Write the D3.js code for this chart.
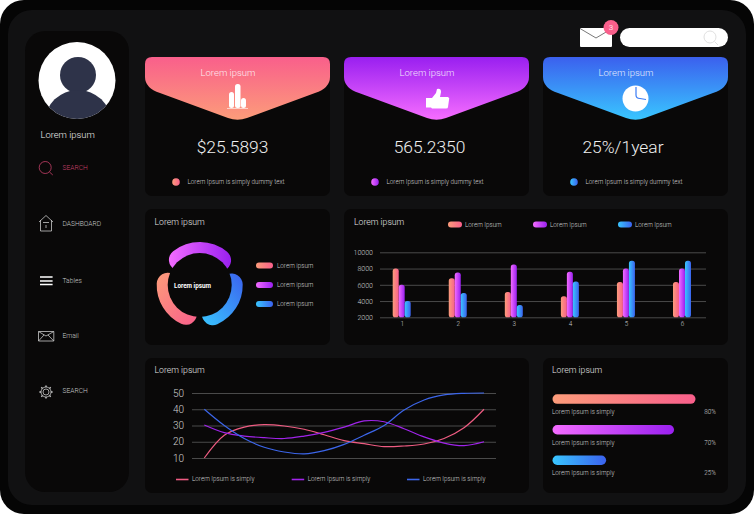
<!DOCTYPE html>
<html>
<head>
<meta charset="utf-8">
<script src="https://cdn.jsdelivr.net/npm/d3@7"></script>
<style>
html, body { margin: 0; padding: 0; background: #fff; }
svg { display: block; }
text { font-family: Roboto, sans-serif; font-weight: 300; }
.small { font-size: 6.3px; fill: #d0d0d0; }
.title { font-size: 8.7px; fill: #e4e4e4; }
.axis path { display: none; }
.axis line { stroke: #4a4a4a; stroke-width: 1; }
</style>
</head>
<body>
<svg id="chart" width="754" height="514"></svg>
<script>
// top cards
var cardTitles = ["Lorem ipsum", "Lorem ipsum", "Lorem ipsum"];
var cardValues = ["$25.5893", "565.2350", "25%/1year"];
var cardNote = "Lorem Ipsum is simply dummy text";

// sidebar
var menuLabels = ["SEARCH", "DASHBOARD", "Tables", "Email", "SEARCH"];

// donut
var donutLabels = ["Lorem ipsum", "Lorem ipsum", "Lorem ipsum"];
var donutValues = [120, 109, 109]; // purple, blue, coral

// bars
var barCategories = ["1", "2", "3", "4", "5", "6"];
var barTicks = [2000, 4000, 6000, 8000, 10000];
var barCoral = [8000, 6800, 5100, 4600, 6350, 6350];
var barPurple = [6000, 7500, 8500, 7600, 8000, 8000];
var barBlue = [4000, 5000, 3500, 6400, 8950, 8950];

// lines, one reading every 20px along the plot
var lineTicks = [10, 20, 30, 40, 50];
var lineSteps = [0, 1, 2, 3, 4, 5, 6, 7, 8, 9, 10, 11, 12, 13, 14];
var lineRed = [10, 24, 29, 30.5, 29.7, 27.7, 24.3, 20.7, 18.8, 17, 17.4, 18.6, 22, 28.6, 40];
var linePurple = [30.3, 25.6, 23.5, 22.5, 22, 23.5, 25.8, 29, 32.8, 32.3, 28, 23, 19.2, 17.6, 20];
var lineBlue = [40, 30, 22, 16.6, 13.7, 12.5, 14.5, 18.4, 24, 30, 39.5, 45.7, 48.8, 49.8, 50];

// progress bars, lengths as drawn, labels as printed
var progressLengths = [80, 68, 30];
var progressLabels = ["80%", "70%", "25%"];
var progressNote = "Lorem Ipsum is simply";

var svg = d3.select("#chart");
var defs = svg.append("defs");

function addGradient(id, from, to, x1, y1, x2, y2) {
  var g = defs.append("linearGradient").attr("id", id)
    .attr("x1", x1).attr("y1", y1).attr("x2", x2).attr("y2", y2);
  g.append("stop").attr("offset", "0%").attr("stop-color", from);
  g.append("stop").attr("offset", "100%").attr("stop-color", to);
}

addGradient("bannerCoral", "#f95f8b", "#fc9c7a", 0, 0, 0, 1);
addGradient("bannerPurple", "#991ff0", "#f66dff", 0, 0, 0, 1);
addGradient("bannerBlue", "#3b60ee", "#39c6ff", 0, 0, 0, 1);
addGradient("hCoral", "#fc9c7a", "#f95f8b", 0, 0, 1, 0);
addGradient("hPurple", "#f36cff", "#9a20f0", 0, 0, 1, 0);
addGradient("hBlue", "#39c6ff", "#3b62ee", 0, 0, 1, 0);
addGradient("dCoral", "#fc9c7a", "#f95f8b", 0, 0, 1, 1);
addGradient("dBlue", "#39c6ff", "#3b62ee", 0, 1, 1, 0);

function panel(x, y, w, h, r, color) {
  svg.append("rect").attr("x", x).attr("y", y).attr("width", w).attr("height", h)
    .attr("rx", r).attr("fill", color);
}

function label(x, y, str, cls, anchor) {
  return svg.append("text").attr("x", x).attr("y", y).attr("dy", "0.35em")
    .attr("class", cls).attr("text-anchor", anchor || "start").text(str);
}

// frame
panel(0, 0, 754, 514, 24, "#050505");
panel(8, 10, 738, 495, 24, "#111112");
panel(25, 31, 104, 461, 20, "#090808");

// avatar
defs.append("clipPath").attr("id", "avatarClip").append("circle")
  .attr("cx", 77).attr("cy", 80.5).attr("r", 38.5);
svg.append("circle").attr("cx", 77).attr("cy", 80.5).attr("r", 38.5).attr("fill", "#fff");
var avatar = svg.append("g").attr("clip-path", "url(#avatarClip)");
avatar.append("circle").attr("cx", 78).attr("cy", 75).attr("r", 18).attr("fill", "#2e3349");
avatar.append("ellipse").attr("cx", 78).attr("cy", 122).attr("rx", 33).attr("ry", 32).attr("fill", "#2e3349");
label(40.5, 134.5, "Lorem ipsum", "title").style("font-size", "9.4px").style("fill", "#eee");

// menu
var menuY = [168, 224, 281, 335.5, 391];
menuLabels.forEach(function(m, i) {
  label(62.5, menuY[i], m, "small").style("font-size", "6.7px").style("fill", i == 0 ? "#c8406a" : "#c8c8c8");
});
function icon(path, stroke, width) {
  svg.append("path").attr("d", path).attr("fill", "none")
    .attr("stroke", stroke || "#c8c8c8").attr("stroke-width", width || 0.8);
}
icon("M51.2,167.5A6,6 0 1 1 39.2,167.5A6,6 0 1 1 51.2,167.5M49.5,172L52.8,175", "#c8406a");
icon("M39,222L46,215.5L53,222M40.5,220V231H51.5V220M43,222.5H49M46,225V228", "#c8c8c8");
icon("M40,277H52.6M40,281H52.6M40,284.6H52.6", "#fff", 1.5);
icon("M38.5,331.5H53.8V341H38.5ZM38.5,331.5L46,336L53.8,331.5M38.5,341L44,335M53.8,341L48,335", "#c8c8c8");
icon("M51,392A5,5 0 1 1 41,392A5,5 0 1 1 51,392M49,392A3,3 0 1 1 43,392A3,3 0 1 1 49,392", "#c8c8c8");
d3.range(8).forEach(function(i) {
  var a = i * Math.PI / 4;
  svg.append("line")
    .attr("x1", 46 + 5 * Math.cos(a)).attr("y1", 392 + 5 * Math.sin(a))
    .attr("x2", 46 + 6.6 * Math.cos(a)).attr("y2", 392 + 6.6 * Math.sin(a))
    .attr("stroke", "#c8c8c8").attr("stroke-width", 1.4);
});

// mail and search box
svg.append("rect").attr("x", 580).attr("y", 28).attr("width", 32).attr("height", 19).attr("rx", 1).attr("fill", "#fff");
icon("M580,28.5L596,38L612,28.5", "#555", 0.8);
svg.append("circle").attr("cx", 611).attr("cy", 27.5).attr("r", 7.5).attr("fill", "#f95f8b");
label(611, 27.5, "3", "small", "middle").style("fill", "#fff").style("font-size", "8px");
panel(620, 28, 108, 19, 9.5, "#fff");
icon("M716,37A6,6 0 1 1 704,37A6,6 0 1 1 716,37M714.5,41.5L718,45", "#dcdcdc", 0.9);

// top cards
var cardX = [145, 344, 543];
var bannerIds = ["bannerCoral", "bannerPurple", "bannerBlue"];
var dotIds = ["hCoral", "hPurple", "hBlue"];
var valueCenter = [232.5, 429.5, 623];
cardX.forEach(function(x, i) {
  panel(x, 57, 185, 139, 7, "#090808");
  svg.append("path")
    .attr("transform", "translate(" + x + ",57)")
    .attr("d", "M7,0H178Q185,0 185,7V20Q185,31 170,36L102,61Q92.5,64.5 83,61L15,36Q0,31 0,20V7Q0,0 7,0Z")
    .attr("fill", "url(#" + bannerIds[i] + ")");
  label(x + 83, 73, cardTitles[i], "title", "middle").style("font-size", "9.5px").style("fill", "#fff").style("opacity", 0.88);
  label(valueCenter[i], 147, cardValues[i], "title", "middle").style("font-size", "17.4px").style("fill", "#f0f0f0");
  svg.append("circle").attr("cx", x + 31).attr("cy", 182).attr("r", 3.8).attr("fill", "url(#" + dotIds[i] + ")");
  label(x + 42.5, 182, cardNote, "small");
});

// card icons
svg.append("rect").attr("x", 229).attr("y", 92).attr("width", 5).attr("height", 16).attr("rx", 2.5).attr("fill", "#fff");
svg.append("rect").attr("x", 235).attr("y", 84).attr("width", 5.5).attr("height", 24).attr("rx", 2.5).attr("fill", "#fff");
svg.append("rect").attr("x", 241).attr("y", 98).attr("width", 5).attr("height", 10).attr("rx", 2.5).attr("fill", "#fff");
icon("M227,108.5H248", "#fff", 0.6);
svg.append("path").attr("fill", "#fff")
  .attr("d", "M426,98H432L436,93L437,89Q441,88 441,92L440,97H448Q450,98 449,100L448,107Q448,108.5 446,108.5H432L431,107.5H426Z");
svg.append("circle").attr("cx", 635.5).attr("cy", 98.5).attr("r", 13).attr("fill", "#fff");
icon("M636,87V95Q636,98.5 640,98.5L646,99.5", "#3b7cf5", 1.2);

// donut
var donutIds = ["hPurple", "dBlue", "dCoral"];
panel(145, 209, 185, 136, 7, "#090808");
label(154.5, 221.5, "Lorem ipsum", "title");
var pie = d3.pie().sort(null).padAngle(0.11).startAngle(-1.1).endAngle(2 * Math.PI - 1.1);
var arc = d3.arc().innerRadius(12).outerRadius(43).cornerRadius(11);
var donut = svg.append("g").attr("transform", "translate(199.7,285)");
donut.selectAll("path").data(pie(donutValues)).enter().append("path")
  .attr("d", arc)
  .attr("fill", function(d, i) { return "url(#" + donutIds[i] + ")"; });
donut.append("circle").attr("r", 32).attr("fill", "#090808");
label(192.5, 286, "Lorem ipsum", "small", "middle").style("fill", "#fff").style("font-weight", 700);

var donutLegendY = [265.5, 285, 304];
var donutLegendIds = ["hCoral", "hPurple", "hBlue"];
donutLabels.forEach(function(t, i) {
  panel(256, donutLegendY[i] - 3, 17, 6, 3, "url(#" + donutLegendIds[i] + ")");
  label(277, donutLegendY[i], t, "small");
});

// bar chart
panel(344, 209, 384, 136, 7, "#090808");
label(354, 221.5, "Lorem ipsum", "title");
var barLegendX = [448, 533, 618];
var barIds = ["hCoral", "hPurple", "hBlue"];
barLegendX.forEach(function(x, i) {
  panel(x, 221.5, 14, 6, 3, "url(#" + barIds[i] + ")");
  label(x + 17, 224.7, "Lorem Ipsum", "small");
});

var barY = d3.scaleLinear().domain([2000, 10000]).range([317.3, 252.3]);
var barX = d3.scalePoint().domain(barCategories).range([401.7, 682]);

var barAxis = svg.append("g").attr("class", "axis").attr("transform", "translate(380,0)")
  .call(d3.axisLeft(barY).tickValues(barTicks).tickSize(-326).tickFormat(d3.format("d")));
barAxis.selectAll("text").attr("class", "small").attr("x", -7).style("font-size", "7px");

var barXAxis = svg.append("g").attr("class", "axis").attr("transform", "translate(0,317.3)")
  .call(d3.axisBottom(barX).tickSize(0));
barXAxis.selectAll("text").attr("class", "small").attr("y", 4);

[barCoral, barPurple, barBlue].forEach(function(series, s) {
  svg.selectAll(null).data(series).enter().append("rect")
    .attr("x", function(d, i) { return barX(barCategories[i]) + (s - 1) * 6 - 3; })
    .attr("y", function(d) { return barY(d); })
    .attr("width", 6)
    .attr("height", function(d) { return barY(2000) - barY(d); })
    .attr("rx", 2.6)
    .attr("fill", "url(#" + barIds[s] + ")");
});

// line chart
panel(145, 358, 384, 135, 7, "#090808");
label(154.5, 370, "Lorem ipsum", "title");
var lineY = d3.scaleLinear().domain([10, 50]).range([458, 393]);
var lineX = d3.scaleLinear().domain([0, 14]).range([204.3, 484]);

var lineAxis = svg.append("g").attr("class", "axis").attr("transform", "translate(192,0)")
  .call(d3.axisLeft(lineY).tickValues(lineTicks).tickSize(-304));
lineAxis.selectAll("text").attr("class", "small").attr("x", -8).style("font-size", "10px");

var lineGen = d3.line()
  .x(function(d, i) { return lineX(lineSteps[i]); })
  .y(function(d) { return lineY(d); })
  .curve(d3.curveCatmullRom.alpha(0.5));
var lineColors = ["#ee5c82", "#a024ea", "#3c66ea"];
[lineRed, linePurple, lineBlue].forEach(function(series, s) {
  svg.append("path").datum(series).attr("d", lineGen)
    .attr("fill", "none").attr("stroke", lineColors[s]).attr("stroke-width", 1.2);
});

var lineLegendX = [176, 291.7, 407];
lineLegendX.forEach(function(x, i) {
  svg.append("line").attr("x1", x).attr("x2", x + 12.5).attr("y1", 479.5).attr("y2", 479.5)
    .attr("stroke", lineColors[i]).attr("stroke-width", 1.6);
  label(x + 16, 479, "Lorem Ipsum is simply", "small");
});

// progress card
panel(543, 358, 185, 135, 7, "#090808");
label(552, 370, "Lorem ipsum", "title");
var progressX = d3.scaleLinear().domain([0, 80]).range([0, 143]);
var progressY = [394.3, 425, 455.5];
var progressIds = ["hCoral", "hPurple", "hBlue"];
progressLengths.forEach(function(v, i) {
  panel(552.5, progressY[i], progressX(v), 9.5, 4.7, "url(#" + progressIds[i] + ")");
  label(552, progressY[i] + 17.5, progressNote, "small");
  label(716, progressY[i] + 17.5, progressLabels[i], "small", "end");
});
</script>
</body>
</html>
